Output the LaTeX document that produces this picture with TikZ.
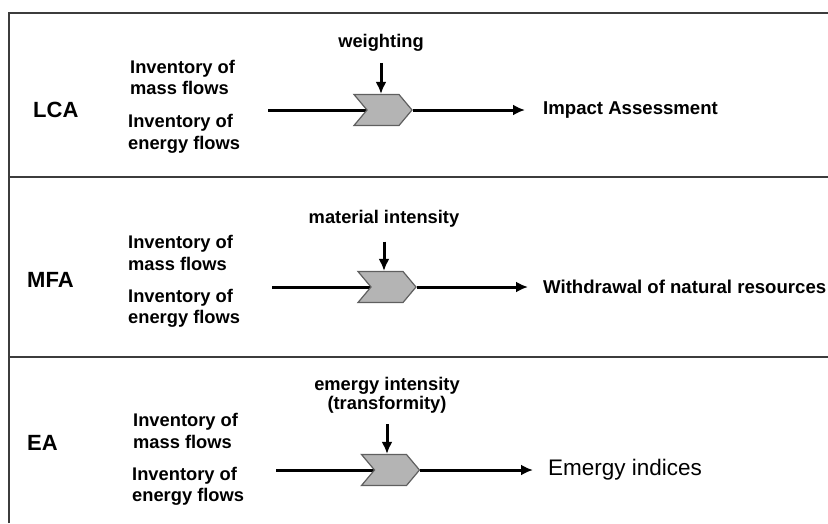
\documentclass[tikz,border=0pt]{standalone}
\usepackage{fontspec}
\setmainfont{Liberation Sans}
\usetikzlibrary{shapes.symbols,arrows.meta,positioning,backgrounds}
\definecolor{frame}{RGB}{60, 60, 60}
\definecolor{chev}{RGB}{180, 180, 180}
\definecolor{chevline}{RGB}{95, 95, 95}
\tikzstyle{method} = [anchor=west, inner sep=0pt, font=\bfseries\fontsize{22}{26}\selectfont]
\tikzstyle{inv} = [anchor=west, align=left, inner sep=0pt, font=\bfseries\fontsize{18.3}{21.5}\selectfont]
\tikzstyle{factor} = [align=center, inner sep=0pt, font=\bfseries\fontsize{18.3}{19}\selectfont]
\tikzstyle{result} = [anchor=west, inner sep=0pt, font=\bfseries\fontsize{18.6}{21}\selectfont]
\tikzstyle{chevron} = [signal, signal to=east, signal from=west, signal pointer angle=100, draw=chevline, fill=chev, line width=1.2pt, minimum width=58pt, minimum height=31pt, inner sep=0pt]
\tikzstyle{tedge} = [draw, line width=3pt, >={Latex[length=12pt,width=11pt]}, ->]
\tikzstyle{flow} = [draw, line width=3pt]
\tikzstyle{rule} = [draw=frame, line width=2.4pt]

\begin{document}
\begin{tikzpicture}[x=1pt, y=-1pt]
\useasboundingbox (0,0) rectangle (828,523);

% frame ==================================
\path[rule] (9,523) -- (9,13) -- (828,13);
\path[rule] (9,177) -- (828,177);
\path[rule] (9,357) -- (828,357);

% LCA
\node[method] (lca) at (33,110) {LCA};
\node[inv] (lcamass) at (130,77.5) {Inventory of\\mass flows};
\node[inv] (lcaenergy) at (128,134) {Inventory of\\energy flows};
\coordinate (lcain) at (268,110);
\node[chevron] (lcaw) at (383,110) {};
\node[factor] (lcawt) at (381,43) {weighting};
\node[result] (lcares) at (543,110) {Impact Assessment};

% MFA
\node[method] (mfa) at (27,280) {MFA};
\node[inv] (mfamass) at (128,253) {Inventory of\\mass flows};
\node[inv] (mfaenergy) at (128,308.5) {Inventory of\\energy flows};
\coordinate (mfain) at (272,287);
\node[chevron] (mfaw) at (387,287) {};
\node[factor] (mfawt) at (384,219) {material intensity};
\node[result] (mfares) at (543,287) {Withdrawal of natural resources};

% EA
\node[method] (ea) at (27,443) {EA};
\node[inv] (eamass) at (133,431) {Inventory of\\mass flows};
\node[inv] (eaenergy) at (132,486.5) {Inventory of\\energy flows};
\coordinate (eain) at (276,470);
\node[chevron] (eaw) at (390.5,470) {};
\node[factor] (eawt) at (387,395) {emergy intensity\\(transformity)};
\node[result, font=\fontsize{22.5}{26}\selectfont] (eares) at (548,470) {Emergy indices};

%edges
\begin{scope}[on background layer]
\path[flow] (lcain) -- (lcaw.center);
\path[flow] (mfain) -- (mfaw.center);
\path[flow] (eain) -- (eaw.center);
\end{scope}

\path[tedge, shorten <=11pt] (lcawt.south) -- (lcawt.south |- lcaw.north);
\path[tedge, shorten <=14pt] (mfawt.south) -- (mfawt.south |- mfaw.north);
\path[tedge, shorten <=11pt] (eawt.south) -- (eawt.south |- eaw.north);

\path[tedge, shorten >=18pt] (lcaw) -- (lcares);
\path[tedge, shorten >=15pt] (mfaw) -- (mfares);
\path[tedge, shorten >=15pt] (eaw) -- (eares);

\end{tikzpicture}
\end{document}
